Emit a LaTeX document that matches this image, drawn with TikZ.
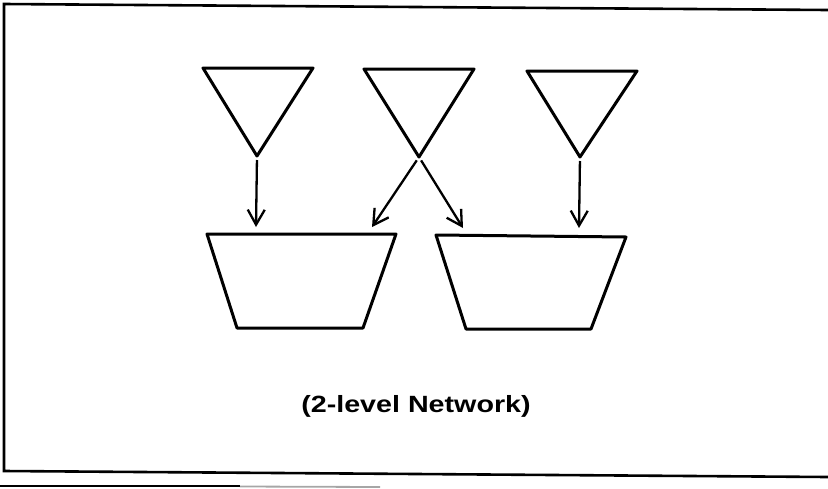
\documentclass[tikz,border=0pt]{standalone}
\usepackage{fontspec}
\usepackage{graphicx}
\setmainfont{Liberation Sans}
\usetikzlibrary{arrows.meta}
\begin{document}
\begin{tikzpicture}[x=1pt,y=-1pt,
    shapeline/.style={draw=black,line width=3pt,line join=round},
    frameline/.style={draw=black,line width=2.6pt},
    link/.style={draw=black,line width=2.3pt,shorten <=4pt,
      -{Straight Barb[length=15pt,width=17pt,line width=2.3pt]}},
    caption/.style={font=\bfseries\fontsize{23.5}{28}\selectfont,inner sep=0pt}]
  \useasboundingbox (0,0) rectangle (828,488);

  % outer frame (open on the right side)
  \draw[frameline] (828,10) -- (4,4) -- (4,471) -- (828,477);
  \draw[black,line width=2.4pt] (0,486) -- (240,486);
  \draw[black!35,line width=1.8pt] (240,486.5) -- (380,487);

  % upper level: three inverted triangles
  \draw[shapeline] (203,68) -- (313,68) -- (257,156) -- cycle;
  \draw[shapeline] (364,69) -- (474,69) -- (419,157) -- cycle;
  \draw[shapeline] (527,71) -- (637,71) -- (580,157) -- cycle;
  \coordinate (t1) at (257,156);
  \coordinate (t2) at (419,157);
  \coordinate (t3) at (580,157);

  % lower level: two trapezoids
  \draw[shapeline] (207,234) -- (396,234) -- (363,328) -- (237,328) -- cycle;
  \draw[shapeline] (436,235) -- (626,237) -- (591,329) -- (466,329) -- cycle;
  \coordinate (b1) at (256,227);
  \coordinate (b2) at (372,227);
  \coordinate (b3) at (463,228);
  \coordinate (b4) at (579,228);

  % links between the levels
  \draw[link] (t1) -- (b1);
  \draw[link] (t2) -- (b2);
  \draw[link] (t2) -- (b3);
  \draw[link] (t3) -- (b4);

  \node[caption,anchor=base] (cap) at (416,412)
    {\scalebox{1.22}[1]{(2-level Network)}};
\end{tikzpicture}
\end{document}
